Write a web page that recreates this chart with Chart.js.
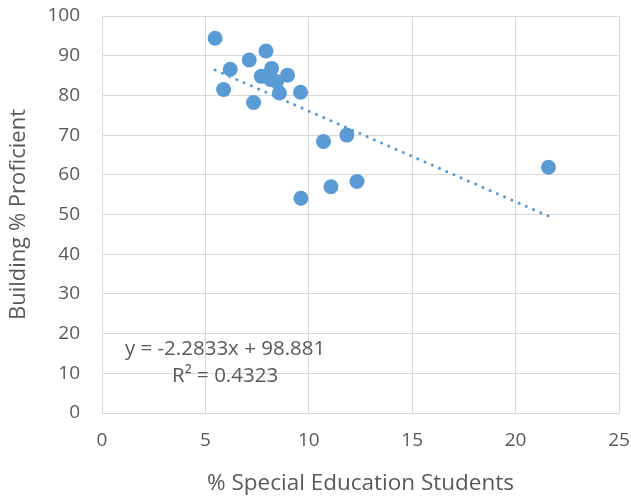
<!DOCTYPE html>
<html>
<head>
<meta charset="utf-8">
<script src="https://cdn.jsdelivr.net/npm/chart.js@4.4.0/dist/chart.umd.min.js"></script>
<style>
  html, body { margin: 0; padding: 0; background: #fff; }
  #wrap { width: 631px; height: 500px; }
</style>
</head>
<body>
<div id="wrap"><canvas id="myScatter"></canvas></div>
<script>
// % special education students (x) vs building % proficient (y)
var specEdPct = [5.47, 6.20, 5.88, 7.12, 7.93, 7.33, 7.70, 8.20, 8.15, 8.45, 8.97, 8.58, 9.60, 10.71, 11.84, 9.62, 11.07, 12.33, 21.59];
var proficientPct = [94.4, 86.6, 81.5, 88.9, 91.2, 78.2, 84.8, 86.8, 84.0, 83.5, 85.1, 80.6, 80.8, 68.4, 70.0, 54.1, 57.0, 58.3, 61.9];

// trendline as reported by the spreadsheet
var trendSlope = -2.2833;
var trendIntercept = 98.881;
var trendR2 = 0.4323;

var xTicks = [0, 5, 10, 15, 20, 25];
var yTicks = [0, 10, 20, 30, 40, 50, 60, 70, 80, 90, 100];

var points = specEdPct.map(function (x, i) {
    return { x: x, y: proficientPct[i] };
});

var minX = Math.min.apply(null, specEdPct);
var maxX = Math.max.apply(null, specEdPct);
var trendPoints = [
    { x: minX, y: trendIntercept + trendSlope * minX },
    { x: maxX, y: trendIntercept + trendSlope * maxX }
];

var textColor = '#595959';
var gridColor = '#D9D9D9';
var fontFamily = '"Open Sans", "Noto Sans", sans-serif';

// equation label, anchored in data units
var equationLabel = {
    id: 'equationLabel',
    afterDatasetsDraw: function (chart) {
        var ctx = chart.ctx;
        var xs = chart.scales.x, ys = chart.scales.y;
        ctx.save();
        ctx.fillStyle = textColor;
        ctx.font = '20.5px ' + fontFamily;
        ctx.textAlign = 'center';
        ctx.textBaseline = 'middle';
        ctx.fillText('y = ' + trendSlope + 'x + ' + trendIntercept, xs.getPixelForValue(5.95), ys.getPixelForValue(16.2));
        ctx.fillText('R\u00B2 = ' + trendR2, xs.getPixelForValue(5.95), ys.getPixelForValue(9.2));
        ctx.restore();
    }
};

var ctx = document.getElementById('myScatter').getContext('2d');
var scatterChart = new Chart(ctx, {
    type: 'scatter',
    data: {
        datasets: [{
            data: points,
            backgroundColor: '#5B9BD5',
            borderColor: '#5B9BD5',
            borderWidth: 0,
            pointRadius: 7.5,
            pointHoverRadius: 7.5,
            order: 0
        }, {
            type: 'line',
            data: trendPoints,
            borderColor: '#5B9BD5',
            borderWidth: 3,
            borderDash: [0.1, 7.8],
            borderCapStyle: 'round',
            pointRadius: 0,
            fill: false,
            order: 1
        }]
    },
    options: {
        responsive: true,
        maintainAspectRatio: false,
        animation: false,
        layout: {
            padding: { top: 0, right: 12, bottom: 0, left: 0 }
        },
        plugins: {
            legend: { display: false },
            tooltip: { enabled: false }
        },
        scales: {
            x: {
                type: 'linear',
                min: 0,
                max: 25,
                afterBuildTicks: function (scale) {
                    scale.ticks = xTicks.map(function (v) { return { value: v }; });
                },
                afterFit: function (scale) {
                    scale.height = 87;
                    // let the last tick label run to the canvas edge like the original
                    scale.paddingRight = 0;
                },
                grid: { color: gridColor, lineWidth: 1, drawTicks: false },
                border: { color: gridColor, width: 1 },
                ticks: {
                    color: textColor,
                    padding: 16,
                    font: { family: fontFamily, size: 19 }
                },
                title: {
                    display: true,
                    text: '% Special Education Students',
                    color: textColor,
                    font: { family: fontFamily, size: 22.5 },
                    padding: { top: 0, bottom: 3 }
                }
            },
            y: {
                type: 'linear',
                min: 0,
                max: 100,
                afterBuildTicks: function (scale) {
                    scale.ticks = yTicks.map(function (v) { return { value: v }; });
                },
                afterFit: function (scale) {
                    scale.width = 102;
                    scale.paddingTop = 16;
                },
                grid: { color: gridColor, lineWidth: 1, drawTicks: false },
                border: { color: gridColor, width: 1 },
                ticks: {
                    color: textColor,
                    padding: 22,
                    font: { family: fontFamily, size: 19 }
                },
                title: {
                    display: true,
                    text: 'Building % Proficient',
                    color: textColor,
                    font: { family: fontFamily, size: 22 },
                    padding: { top: 6, bottom: 0 }
                }
            }
        }
    },
    plugins: [equationLabel]
});
</script>
</body>
</html>
